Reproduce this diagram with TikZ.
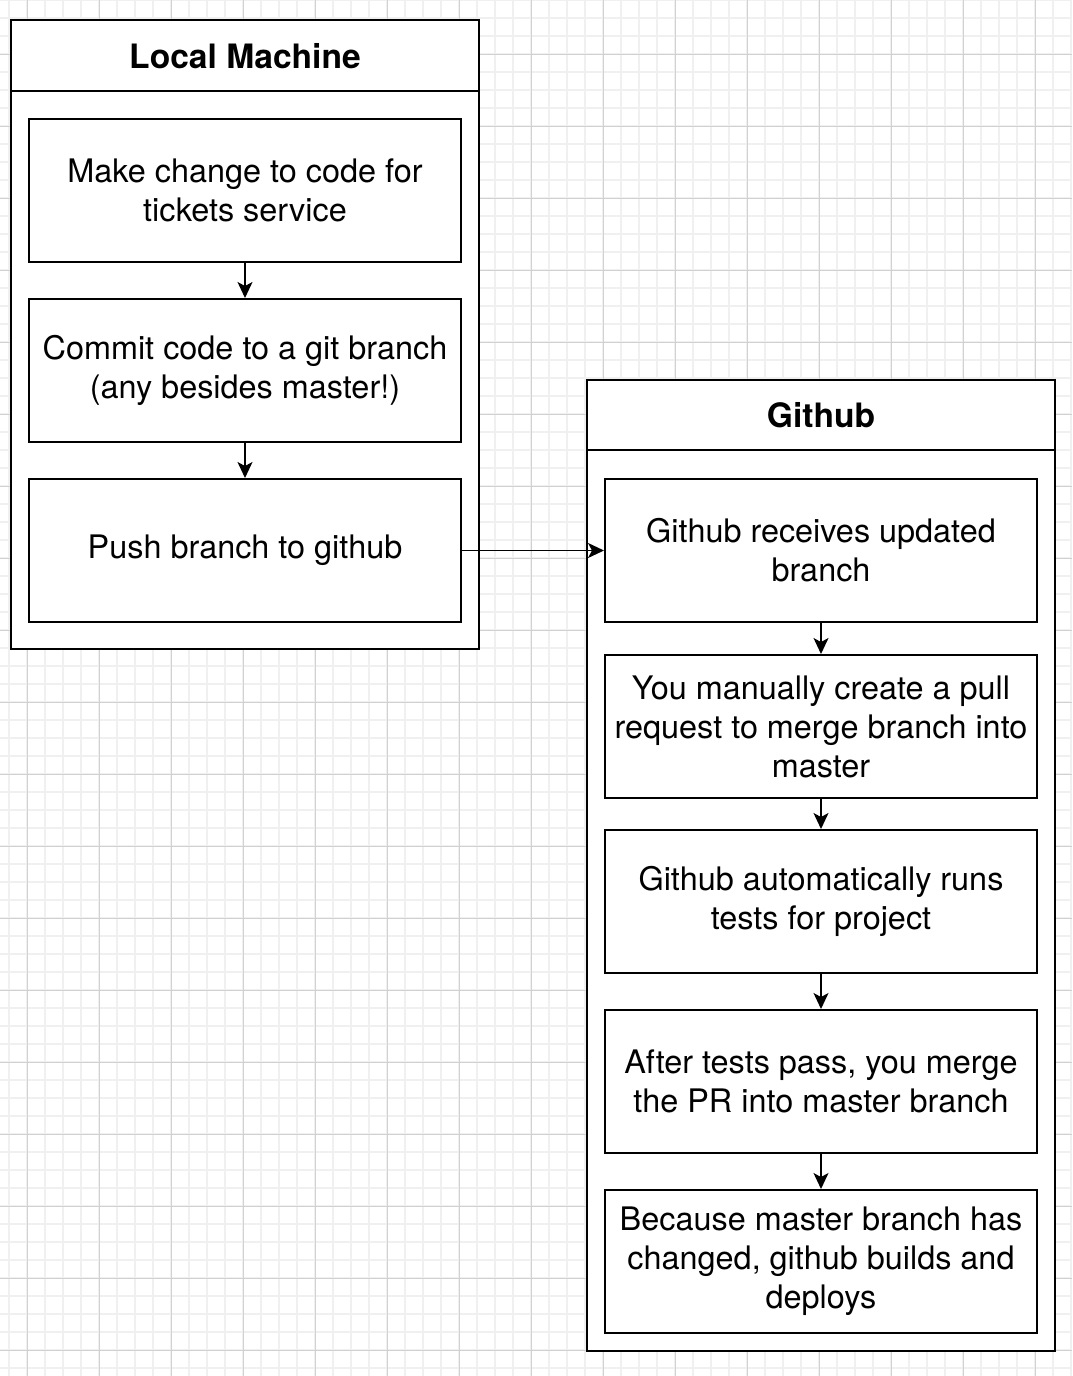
\documentclass[tikz,border=0pt]{standalone}
\usepackage{fontspec}
\setmainfont{TeX Gyre Heros}
\usepackage{tikz}
\usetikzlibrary{arrows.meta}

\begin{document}
\begin{tikzpicture}[x=1pt, y=-1pt, >={Stealth[length=16pt, width=15pt, inset=4pt]},
  grid minor/.style={line width=1.6pt, black!6},
  grid major/.style={line width=1pt, black!18},
  lane/.style={draw, fill=white, line width=2pt, minimum width=468pt},
  lane title/.style={font=\bfseries\fontsize{33.6pt}{40pt}\selectfont},
  stepbox/.style={draw, fill=white, line width=2pt, minimum width=432pt, minimum height=143pt,
    align=center, inner sep=0pt, font=\fontsize{32.4pt}{39pt}\selectfont},
  link/.style={->, line width=1.5pt}]

\useasboundingbox (0,0) rectangle (1072,1376);

\foreach \gx in {9,27,...,1071}
  \draw [grid minor] (\gx,0) -- (\gx,1376);
\foreach \gy in {0,18,...,1376}
  \draw [grid minor] (0,\gy) -- (1072,\gy);
\foreach \gx in {27,99,...,1071}
  \draw [grid major] (\gx,0) -- (\gx,1376);
\foreach \gy in {54,126,...,1376}
  \draw [grid major] (0,\gy) -- (1072,\gy);

\node [lane, minimum height=629pt] (local) at (245,334.5) {};
\draw [line width=2pt] ([yshift=-72pt]local.north west) -- ([yshift=-72pt]local.north east);
\node [lane title] (local-title) at ([yshift=-37pt]local.north) {Local Machine};

\node [lane, minimum height=971pt] (github) at (821,865.5) {};
\draw [line width=2pt] ([yshift=-71pt]github.north west) -- ([yshift=-71pt]github.north east);
\node [lane title] (github-title) at ([yshift=-36pt]github.north) {Github};

\foreach \t [count=\i] in {{Make change to code for\\tickets service},
    {Commit code to a git branch\\(any besides master!)},
    {Push branch to github}}
  \node [stepbox] (local-\i) at (245,10.5+180*\i) {\t};

\foreach \t/\y [count=\i] in {{Github receives updated\\branch}/550.5,
    {You manually create a pull\\request to merge branch into\\master}/726.5,
    {Github automatically runs\\tests for project}/901.5,
    {After tests pass, you merge\\the PR into master branch}/1081.5,
    {Because master branch has\\changed, github builds and\\deploys}/1261.5}
  \node [stepbox] (github-\i) at (821,\y) {\t};

\foreach \i/\j in {1/2,2/3}
  \draw [link] (local-\i) -- (local-\j);

\foreach \i/\j in {1/2,2/3,3/4,4/5}
  \draw [link] (github-\i) -- (github-\j);

\draw [link] (local-3) -- (github-1);
\end{tikzpicture}
\end{document}
